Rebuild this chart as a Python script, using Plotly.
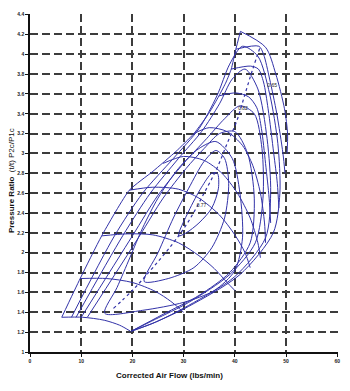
import plotly.graph_objects as go

# ---------------- data ----------------
x_ticks = [0, 10, 20, 30, 40, 50, 60]
y_ticks = [1, 1.2, 1.4, 1.6, 1.8, 2, 2.2, 2.4, 2.6, 2.8, 3, 3.2, 3.4, 3.6, 3.8, 4, 4.2, 4.4]
y_tick_text = ["1", "1.2", "1.4", "1.6", "1.8", "2", "2.2", "2.4", "2.6", "2.8", "3",
               "3.2", "3.4", "3.6", "3.8", "4", "4.2", "4.4"]

# surge line
surge_x = [6.2, 9.8, 14.0, 19.4, 24.0, 28.5, 32.0, 35.0, 36.9, 38.3, 39.3, 40.2, 41.1]
surge_y = [1.35, 1.74, 2.17, 2.63, 2.82, 3.02, 3.20, 3.41, 3.58, 3.72, 3.85, 4.05, 4.23]

# speed lines
s1_x = [6.2, 10.3, 14.5, 17.5, 19.6]
s1_y = [1.35, 1.35, 1.32, 1.27, 1.21]
s2_x = [9.8, 15.0, 20.0, 24.5, 27.5, 30.0]
s2_y = [1.74, 1.74, 1.70, 1.61, 1.51, 1.40]
s3_x = [14.0, 19.0, 24.0, 29.0, 33.0, 36.0, 38.5, 40.0]
s3_y = [2.17, 2.19, 2.18, 2.10, 1.97, 1.84, 1.70, 1.62]
s4_x = [19.4, 24.0, 29.0, 33.0, 37.0, 40.0, 42.0, 43.0]
s4_y = [2.63, 2.66, 2.64, 2.55, 2.38, 2.18, 2.00, 1.85]
s5_x = [26.0, 30.0, 34.0, 37.5, 40.5, 43.0, 44.5, 45.0]
s5_y = [2.90, 2.97, 2.93, 2.80, 2.60, 2.35, 2.10, 1.95]
s6_x = [32.0, 35.0, 38.5, 41.5, 43.5, 45.0, 45.8, 46.0]
s6_y = [3.20, 3.26, 3.22, 3.08, 2.88, 2.60, 2.30, 2.10]
s7_x = [36.9, 40.2, 42.7, 44.3, 45.2, 46.0, 46.7, 47.0]
s7_y = [3.58, 3.61, 3.57, 3.46, 3.25, 2.90, 2.55, 2.30]
s8_x = [39.3, 43.1, 44.6, 45.6, 46.5, 47.6, 48.3, 48.6]
s8_y = [3.85, 3.88, 3.85, 3.72, 3.45, 3.00, 2.70, 2.45]
s9_x = [40.2, 44.7, 45.6, 46.8, 48.2, 49.4, 49.8]
s9_y = [4.05, 4.08, 4.00, 3.75, 3.40, 3.00, 2.80]
s10_x = [41.1, 46.0, 48.0, 49.7, 50.3, 50.2]
s10_y = [4.23, 4.07, 3.80, 3.45, 3.20, 3.00]

# efficiency islands (inner -> outer)
e1_x = [29.0, 31.0, 33.5, 35.5, 36.6, 36.8, 35.5, 33.0, 30.5, 29.0]
e1_y = [2.17, 2.42, 2.66, 2.80, 2.80, 2.65, 2.45, 2.30, 2.20, 2.17]
e2_x = [22.3, 25.0, 28.0, 31.0, 34.0, 36.3, 38.0, 38.8, 38.0, 35.5, 32.0, 27.0, 22.3]
e2_y = [1.71, 2.00, 2.35, 2.65, 2.92, 3.03, 2.95, 2.70, 2.35, 2.05, 1.85, 1.74, 1.71]
e3_x = [14.6, 17.0, 19.5, 22.0, 25.0, 29.0, 33.0, 36.3, 39.5, 41.0, 41.5, 40.0, 36.0, 30.0, 22.0, 14.6]
e3_y = [1.39, 1.65, 1.95, 2.25, 2.55, 2.85, 3.05, 3.12, 2.95, 2.60, 2.15, 1.82, 1.62, 1.50, 1.42, 1.39]
e4_x = [11.2, 21.4, 26.0, 30.5, 34.0, 37.0, 40.0, 42.5, 43.8, 43.0, 39.0, 33.0, 26.0, 19.8]
e4_y = [1.35, 2.17, 2.55, 2.85, 3.05, 3.20, 3.22, 3.00, 2.55, 2.10, 1.80, 1.57, 1.38, 1.21]
e5_x = [10.0, 20.0, 25.0, 30.0, 34.5, 38.0, 41.0, 43.8, 45.3, 45.5, 44.0, 39.0, 31.0, 24.5, 19.8]
e5_y = [1.35, 2.17, 2.58, 2.90, 3.15, 3.35, 3.48, 3.40, 3.05, 2.55, 2.10, 1.78, 1.50, 1.33, 1.21]
e6_x = [9.0, 18.1, 23.5, 29.0, 33.5, 37.0, 39.5, 42.0, 44.5, 46.3, 47.0, 46.0, 40.0, 31.0, 24.5, 19.8]
e6_y = [1.35, 2.17, 2.60, 2.95, 3.22, 3.50, 3.75, 3.85, 3.65, 3.15, 2.60, 2.15, 1.76, 1.47, 1.30, 1.21]
e7_x = [8.1, 16.5, 22.0, 28.0, 33.0, 36.5, 39.0, 41.5, 44.5, 46.8, 48.4, 48.8, 47.5, 41.0, 31.0, 24.0, 19.8]
e7_y = [1.35, 2.17, 2.60, 2.95, 3.25, 3.58, 3.90, 4.08, 3.98, 3.60, 3.10, 2.60, 2.20, 1.78, 1.46, 1.29, 1.21]

# dotted line
dot_x = [16.3, 20.0, 24.0, 28.0, 31.0, 34.0, 36.5, 38.5, 40.4, 42.0, 43.5, 45.0]
dot_y = [1.44, 1.62, 1.85, 2.10, 2.32, 2.60, 2.85, 3.10, 3.33, 3.60, 3.85, 4.08]

# labels
label_text = ["0.65", "0.82", "0.77"]
label_x = [47.3, 41.6, 33.5]
label_y = [3.68, 3.45, 2.47]

# ---------------- figure ----------------
BLUE = "#3232a8"
fig = go.Figure()

speed = [(s1_x, s1_y), (s2_x, s2_y), (s3_x, s3_y), (s4_x, s4_y), (s5_x, s5_y),
         (s6_x, s6_y), (s7_x, s7_y), (s8_x, s8_y), (s9_x, s9_y), (s10_x, s10_y)]
islands = [(e1_x, e1_y), (e2_x, e2_y), (e3_x, e3_y), (e4_x, e4_y),
           (e5_x, e5_y), (e6_x, e6_y), (e7_x, e7_y)]

for xs, ys in islands + speed:
    fig.add_trace(go.Scatter(x=xs, y=ys, mode="lines",
                             line=dict(color=BLUE, width=1, shape="spline", smoothing=0.8),
                             hoverinfo="skip", showlegend=False))

fig.add_trace(go.Scatter(x=surge_x, y=surge_y, mode="lines",
                         line=dict(color=BLUE, width=1, shape="spline", smoothing=0.5),
                         hoverinfo="skip", showlegend=False))

fig.add_trace(go.Scatter(x=dot_x, y=dot_y, mode="lines",
                         line=dict(color=BLUE, width=1.2, dash="dot", shape="spline"),
                         hoverinfo="skip", showlegend=False))

fig.add_trace(go.Scatter(x=label_x, y=label_y, mode="text", text=label_text,
                         textfont=dict(size=5, color="#222222", family="Liberation Sans"),
                         hoverinfo="skip", showlegend=False))

grid = dict(showgrid=True, gridcolor="#3c3c3c", gridwidth=1.5, griddash="8px,4px")

fig.update_xaxes(range=[0, 60.15], tickvals=x_ticks, ticktext=[str(v) for v in x_ticks],
                 showline=True, linecolor="#111111", linewidth=1.5,
                 ticks="outside", ticklen=3, tickcolor="#111111",
                 tickfont=dict(size=5, color="#222222", family="Liberation Sans", weight="bold"),
                 zeroline=False, **grid)
fig.update_yaxes(range=[1, 4.405], tickvals=y_ticks, ticktext=y_tick_text,
                 showline=True, linecolor="#111111", linewidth=1.5,
                 ticks="outside", ticklen=3, tickcolor="#111111",
                 tickfont=dict(size=5, color="#222222", family="Liberation Sans", weight="bold"),
                 zeroline=False, **grid)

fig.update_layout(
    width=350, height=391,
    margin=dict(l=30, r=10, t=14, b=39),
    paper_bgcolor="white", plot_bgcolor="white",
    annotations=[
        dict(text="<b>Corrected Air Flow (lbs/min)</b>", xref="paper", yref="paper",
             x=0.452, y=-0.071, xanchor="center", yanchor="middle", showarrow=False,
             font=dict(size=8, color="#111111", family="Liberation Sans")),
        dict(text="<b>Pressure Ratio</b>  (t/t) P2c/P1c", xref="paper", yref="paper",
             x=-0.058, y=0.506, xanchor="center", yanchor="middle", showarrow=False,
             textangle=-90,
             font=dict(size=8, color="#111111", family="Liberation Sans")),
    ],
)

fig.write_html("out.html")
